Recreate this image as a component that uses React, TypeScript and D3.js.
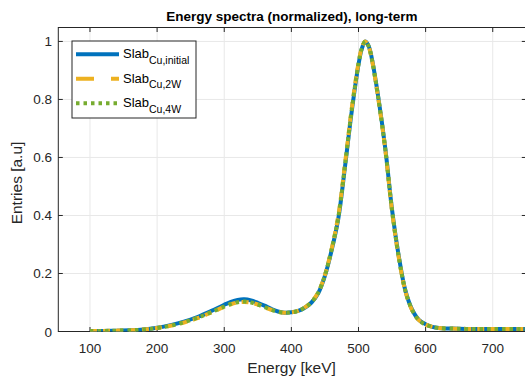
import React from "react";
import * as d3 from "d3";

const energies = [100,120,140,160,180,200,220,240,260,280,300,310,320,330,340,350,360,370,380,390,400,410,420,430,440,450,460,470,480,490,500,505,510,515,520,530,540,550,560,570,580,590,600,610,620,640,660,680,700,720,740,750];

const slabInitial = [0.002,0.002,0.003,0.004,0.007,0.013,0.022,0.034,0.050,0.070,0.092,0.102,0.109,0.111,0.107,0.099,0.089,0.078,0.069,0.065,0.066,0.071,0.082,0.100,0.132,0.192,0.28,0.39,0.57,0.76,0.92,0.975,1.0,0.985,0.94,0.80,0.63,0.42,0.26,0.14,0.075,0.04,0.025,0.016,0.012,0.010,0.009,0.009,0.009,0.009,0.009,0.009];

const slab2W = [0.002,0.002,0.003,0.004,0.007,0.012,0.020,0.031,0.046,0.065,0.085,0.094,0.100,0.102,0.099,0.093,0.084,0.075,0.068,0.065,0.066,0.071,0.083,0.102,0.135,0.195,0.285,0.40,0.58,0.77,0.925,0.978,1.0,0.983,0.937,0.795,0.625,0.415,0.255,0.138,0.073,0.039,0.024,0.016,0.012,0.010,0.009,0.009,0.009,0.009,0.009,0.009];

const slab4W = [0.002,0.002,0.003,0.004,0.007,0.012,0.020,0.032,0.047,0.066,0.086,0.095,0.101,0.103,0.100,0.093,0.084,0.075,0.068,0.065,0.066,0.071,0.083,0.101,0.134,0.194,0.283,0.395,0.575,0.765,0.922,0.976,1.0,0.984,0.938,0.797,0.627,0.418,0.257,0.139,0.074,0.039,0.024,0.016,0.012,0.010,0.009,0.009,0.009,0.009,0.009,0.009];

const xTicks = [100, 200, 300, 400, 500, 600, 700];
const yTicks = [0, 0.2, 0.4, 0.6, 0.8, 1];
const yTickLabels = ["0", "0.2", "0.4", "0.6", "0.8", "1"];

const seriesNames = ["initial", "2W", "4W"];
const seriesColors = ["#0072BD", "#EDB120", "#77AC30"];

const W = 525;
const H = 382;
const L = 58.3, R = 526.3, T = 27.5, B = 331.5;
const FONT = "'Liberation Sans', Arial, Helvetica, sans-serif";
const AX = "#262626";

export default function App() {
  const x = d3.scaleLinear().domain([52.8, 750]).range([L, R]);
  const y = d3.scaleLinear().domain([0, 1.048]).range([B, T]);
  const line = d3
    .line<[number, number]>()
    .x((d) => x(d[0]))
    .y((d) => y(d[1]))
    .curve(d3.curveCatmullRom.alpha(0.5));

  const allSeries = [slabInitial, slab2W, slab4W];
  const dashes = ["none", "7,6", "3.5,4"];
  const legendDashes = ["none", "18,17", "3.5,4"];

  return (
    <svg
      width={W}
      height={H}
      style={{ position: "absolute", left: 0, top: 0, background: "#fff" }}
      fontFamily={FONT}
    >
      <defs>
        <clipPath id="plotclip">
          <rect x={L} y={T} width={R - L} height={B - T} />
        </clipPath>
      </defs>
      <rect x={0} y={0} width={W} height={H} fill="#fff" />
      {xTicks.map((t) => (
        <line key={"gx" + t} x1={x(t)} x2={x(t)} y1={T} y2={B} stroke="#e8e8e8" strokeWidth={1} />
      ))}
      {yTicks.map((t) => (
        <line key={"gy" + t} x1={L} x2={R} y1={y(t)} y2={y(t)} stroke="#e8e8e8" strokeWidth={1} />
      ))}
      <rect x={L} y={T} width={R - L} height={B - T} fill="none" stroke={AX} strokeWidth={1} />
      {xTicks.map((t) => (
        <g key={"tx" + t}>
          <line x1={x(t)} x2={x(t)} y1={B} y2={B - 4.5} stroke={AX} />
          <line x1={x(t)} x2={x(t)} y1={T} y2={T + 4.5} stroke={AX} />
          <text x={x(t)} y={353} textAnchor="middle" fontSize={13.5} fill={AX}>
            {t}
          </text>
        </g>
      ))}
      {yTicks.map((t, i) => (
        <g key={"ty" + t}>
          <line x1={L} x2={L + 4.5} y1={y(t)} y2={y(t)} stroke={AX} />
          <line x1={R} x2={R - 4.5} y1={y(t)} y2={y(t)} stroke={AX} />
          <text x={52} y={y(t) + 5} textAnchor="end" fontSize={13.5} fill={AX}>
            {yTickLabels[i]}
          </text>
        </g>
      ))}
      <g clipPath="url(#plotclip)">
        {allSeries.map((s, i) => (
          <path
            key={"s" + i}
            d={line(energies.map((e, j) => [e, s[j]] as [number, number])) || ""}
            fill="none"
            stroke={seriesColors[i]}
            strokeWidth={4}
            strokeDasharray={dashes[i]}
            strokeLinejoin="round"
          />
        ))}
      </g>
      <text x={(L + R) / 2 - 0.5} y={20.5} textAnchor="middle" fontSize={13.5} fontWeight="bold" fill="#000">
        Energy spectra (normalized), long-term
      </text>
      <text x={291.5} y={372.5} textAnchor="middle" fontSize={15.5} fill={AX}>
        Energy [keV]
      </text>
      <text
        transform={`translate(21.5, 183) rotate(-90)`}
        textAnchor="middle"
        fontSize={15.5}
        fill={AX}
      >
        Entries [a.u]
      </text>
      <rect x={72} y={41} width={124} height={77} fill="#fff" stroke={AX} strokeWidth={1} />
      {seriesNames.map((n, i) => {
        const ly = 54.3 + i * 24.5;
        return (
          <g key={"lg" + n}>
            <line
              x1={76}
              x2={119}
              y1={ly}
              y2={ly}
              stroke={seriesColors[i]}
              strokeWidth={4}
              strokeDasharray={legendDashes[i]}
            />
            <text x={123} y={ly + 4} fontSize={13} fill="#000">
              Slab
              <tspan fontSize={10.5} dy={5.5}>
                {"Cu," + n}
              </tspan>
            </text>
          </g>
        );
      })}
    </svg>
  );
}
